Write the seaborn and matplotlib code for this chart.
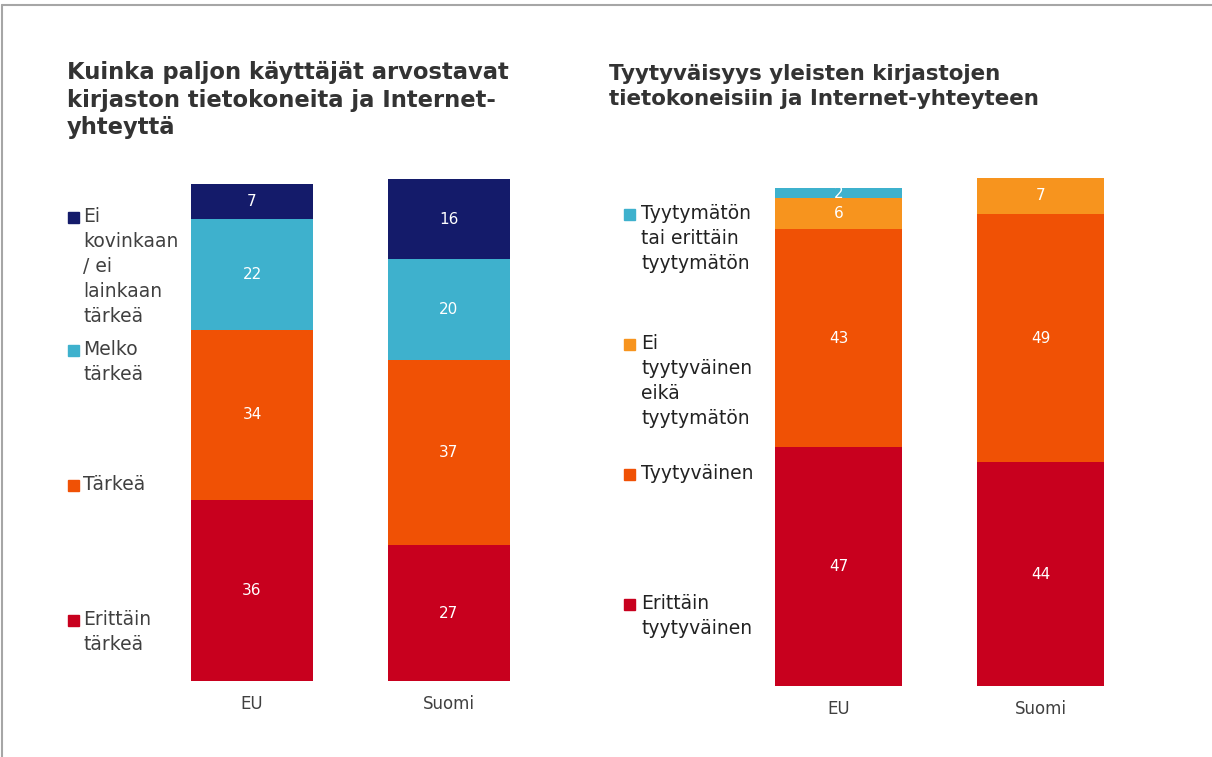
import numpy as np
import pandas as pd
import matplotlib
matplotlib.use("Agg")
import matplotlib.pyplot as plt
import seaborn as sns
from matplotlib.patches import Rectangle
from matplotlib.lines import Line2D

W, H = 1212, 757

groups = ["EU", "Suomi"]

# vasen kuvio: kuinka tärkeä (alhaalta ylös)
imp_names = ["Erittäin tärkeä", "Tärkeä", "Melko tärkeä", "Ei kovinkaan / ei lainkaan tärkeä"]
imp_erittain = [36, 27]
imp_tarkea = [34, 37]
imp_melko = [22, 20]
imp_ei = [7, 16]
imp_colors = ["#C8001E", "#F05105", "#3EB1CD", "#141B6A"]
imp_legend = ["Ei\nkovinkaan\n/ ei\nlainkaan\ntärkeä", "Melko\ntärkeä", "Tärkeä", "Erittäin\ntärkeä"]

# oikea kuvio: tyytyväisyys (alhaalta ylös)
sat_names = ["Erittäin tyytyväinen", "Tyytyväinen", "Ei tyytyväinen eikä tyytymätön",
             "Tyytymätön tai erittäin tyytymätön"]
sat_erittain = [47, 44]
sat_tyyt = [43, 49]
sat_ei = [6, 7]
sat_tyytymaton = [2, 0]
sat_colors = ["#C8001E", "#F05105", "#F7941E", "#3EB1CD"]
sat_legend = ["Tyytymätön\ntai erittäin\ntyytymätön", "Ei\ntyytyväinen\neikä\ntyytymätön",
              "Tyytyväinen", "Erittäin\ntyytyväinen"]

sns.set_theme(style="white")
plt.rcParams["font.family"] = ["DejaVu Sans"]

fig = plt.figure(figsize=(W / 100, H / 100), dpi=100)


def frac(x, y):
    return x / W, 1 - y / H


def stacked(ax, names, cols, colors, width):
    df = pd.DataFrame(dict(zip(names, cols)), index=groups)
    cum = df.cumsum(axis=1)
    # piirretään kertymät ylimmästä alimpaan, jolloin syntyy pino
    for name, color in reversed(list(zip(names, colors))):
        sns.barplot(x=groups, y=cum[name].values, color=color, width=width,
                    saturation=1, linewidth=0, ax=ax)
    for i, g in enumerate(groups):
        for name in names:
            v = df.loc[g, name]
            if v > 0:
                ax.text(i, cum.loc[g, name] - v / 2, str(v), color="white",
                        ha="center", va="center", fontsize=11)
    ax.set_xlim(-0.5, 1.5)
    ax.set_ylim(0, 100)
    ax.set_yticks([])
    ax.set_ylabel("")
    sns.despine(ax=ax, left=True, bottom=True)
    ax.tick_params(axis="x", length=0, pad=10, labelsize=12, labelcolor="#404040")
    ax.patch.set_alpha(0)


ax1 = fig.add_axes([153.5 / W, (H - 681) / H, 394 / W, 502 / H])
stacked(ax1, imp_names, [imp_erittain, imp_tarkea, imp_melko, imp_ei], imp_colors, 0.62)

ax2 = fig.add_axes([737.5 / W, (H - 686) / H, 404 / W, 508 / H])
stacked(ax2, sat_names, [sat_erittain, sat_tyyt, sat_ei, sat_tyytymaton], sat_colors, 0.63)

# otsikot
tc = "#333333"
fig.text(*frac(67, 61), "Kuinka paljon käyttäjät arvostavat\nkirjaston tietokoneita ja Internet-\nyhteyttä",
         ha="left", va="top", fontsize=16.3, fontweight="bold", color=tc, linespacing=1.26)
fig.text(*frac(609, 64), "Tyytyväisyys yleisten kirjastojen\ntietokoneisiin ja Internet-yhteyteen",
         ha="left", va="top", fontsize=15.4, fontweight="bold", color=tc, linespacing=1.3)

# selitteet
imp_leg_y = [210, 343, 478, 613]
imp_leg_c = [imp_colors[3], imp_colors[2], imp_colors[1], imp_colors[0]]
for txt, y, c in zip(imp_legend, imp_leg_y, imp_leg_c):
    fig.add_artist(Rectangle(frac(68, y + 13), 11 / W, 11 / H, color=c, transform=fig.transFigure))
    fig.text(*frac(83, y - 3), txt, ha="left", va="top", fontsize=13.5, color="#404040", linespacing=1.4)

sat_leg_y = [207, 337, 467, 597]
sat_leg_c = [sat_colors[3], sat_colors[2], sat_colors[1], sat_colors[0]]
for txt, y, c in zip(sat_legend, sat_leg_y, sat_leg_c):
    fig.add_artist(Rectangle(frac(624, y + 13), 11 / W, 11 / H, color=c, transform=fig.transFigure))
    fig.text(*frac(641, y - 3), txt, ha="left", va="top", fontsize=13.5, color="#222222", linespacing=1.4)

# kehys
fig.add_artist(Line2D([2 / W, 1], [1 - 5 / H, 1 - 5 / H], color="#A6A6A6", lw=1.5, transform=fig.transFigure))
fig.add_artist(Line2D([2 / W, 2 / W], [0, 1 - 5 / H], color="#A6A6A6", lw=1.5, transform=fig.transFigure))

fig.savefig("out.png", dpi=100)
